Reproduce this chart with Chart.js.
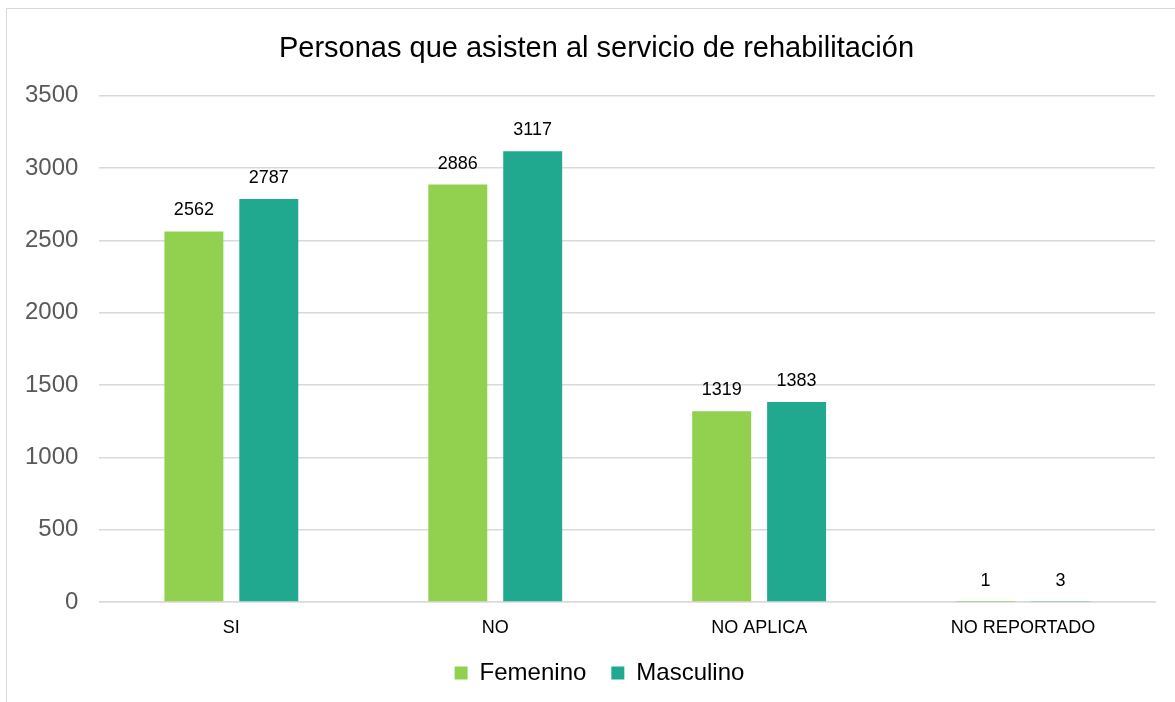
<!DOCTYPE html>
<html>
<head>
<meta charset="utf-8">
<script src="https://cdn.jsdelivr.net/npm/chart.js@4"></script>
<style>
  html, body { margin: 0; padding: 0; background: #fff; overflow: hidden; }
  #frame { position: absolute; left: 6px; top: 8px; width: 1200px; height: 720px; border: 1.5px solid #d9d9d9; box-sizing: border-box; }
  #wrap { position: absolute; left: 0; top: 0; width: 1175px; height: 702px; }
</style>
</head>
<body>
<div id="frame"></div>
<div id="wrap"><canvas id="chart"></canvas></div>
<script>
const categorias = ['SI', 'NO', 'NO APLICA', 'NO REPORTADO'];
const femenino = [2562, 2886, 1319, 1];
const masculino = [2787, 3117, 1383, 3];
const yMax = 3500;
const yStep = 500;

const fuente = '"Liberation Sans", Arial, sans-serif';

// etiquetas de valor encima de cada barra
const etiquetas = {
  id: 'etiquetas',
  afterDatasetsDraw(chart) {
    const ctx = chart.ctx;
    ctx.save();
    ctx.font = '18px ' + fuente;
    ctx.fillStyle = '#000';
    ctx.textAlign = 'center';
    ctx.textBaseline = 'middle';
    chart.data.datasets.forEach((ds, i) => {
      chart.getDatasetMeta(i).data.forEach((bar, j) => {
        ctx.fillText(ds.data[j], bar.x, bar.y - 21);
      });
    });
    ctx.restore();
  }
};

// centrar título y leyenda sobre todo el marco, no solo sobre el área útil
const centrado = {
  id: 'centrado',
  afterLayout(chart) {
    if (chart.titleBlock) { chart.titleBlock.left += 17; chart.titleBlock.right += 17; }
    if (chart.legend) { chart.legend.left += 20; chart.legend.right += 20; }
  }
};

new Chart(document.getElementById('chart').getContext('2d'), {
  type: 'bar',
  data: {
    labels: categorias,
    datasets: [
      { label: 'Femenino', data: femenino, backgroundColor: '#92D050' },
      { label: 'Masculino', data: masculino, backgroundColor: '#20A98F' }
    ]
  },
  options: {
    responsive: true,
    maintainAspectRatio: false,
    animation: false,
    layout: { padding: { left: 4, right: 20, top: 10, bottom: 7 } },
    datasets: {
      bar: { categoryPercentage: 0.5677, barPercentage: 0.787 }
    },
    plugins: {
      title: {
        display: true,
        text: 'Personas que asisten al servicio de rehabilitación',
        color: '#000',
        font: { family: fuente, size: 29, weight: 'normal' },
        padding: { top: 22, bottom: 29 }
      },
      legend: {
        position: 'bottom',
        labels: {
          color: '#000',
          font: { family: fuente, size: 24 },
          boxWidth: 13,
          boxHeight: 13,
          padding: 25
        }
      },
      tooltip: { enabled: false }
    },
    scales: {
      x: {
        grid: { display: false, drawTicks: false },
        border: { color: '#d9d9d9', width: 1.5 },
        ticks: { color: '#000', font: { family: fuente, size: 18 }, padding: 15 },
        afterFit: (scale) => { scale.height = 34; }
      },
      y: {
        min: 0,
        max: yMax,
        grid: { color: '#d9d9d9', lineWidth: 1.5, drawTicks: false },
        border: { display: false },
        ticks: {
          stepSize: yStep,
          color: '#595959',
          font: { family: fuente, size: 24 },
          padding: 21,
          callback: (v) => String(v)
        }
      }
    }
  },
  plugins: [etiquetas, centrado]
});
</script>
</body>
</html>
